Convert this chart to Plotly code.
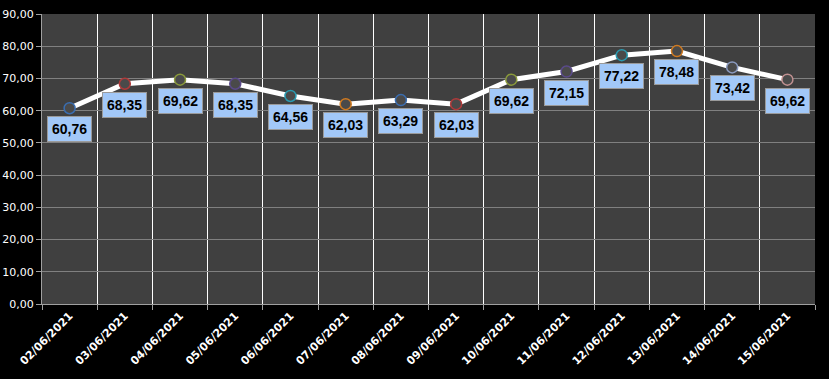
import plotly.graph_objects as go

dates = ["02/06/2021", "03/06/2021", "04/06/2021", "05/06/2021", "06/06/2021",
         "07/06/2021", "08/06/2021", "09/06/2021", "10/06/2021", "11/06/2021",
         "12/06/2021", "13/06/2021", "14/06/2021", "15/06/2021"]
values = [60.76, 68.35, 69.62, 68.35, 64.56, 62.03, 63.29, 62.03,
          69.62, 72.15, 77.22, 78.48, 73.42, 69.62]
marker_colors = ["#3a6db0", "#b03a3a", "#8a9a3a", "#5a4a8a", "#2a9ab0", "#d07a20",
                 "#3a6db0", "#b03a3a", "#8a9a3a", "#5a4a8a", "#2a9ab0", "#d07a20",
                 "#8a9ac0", "#c09090"]
y_ticks = [0, 10, 20, 30, 40, 50, 60, 70, 80, 90]

fig = go.Figure()
fig.add_trace(go.Scatter(
    x=dates, y=values, mode="lines+markers",
    line=dict(color="white", width=5),
    marker=dict(size=11, color="#4a4a4a", line=dict(color=marker_colors, width=1.5)),
    hoverinfo="skip",
))

for d, v in zip(dates, values):
    fig.add_annotation(
        x=d, y=v, text=f"{v:.2f}".replace(".", ","), showarrow=False,
        yshift=-21, bgcolor="#a2c8f8", bordercolor="#9a9a9a", borderwidth=1,
        borderpad=4, font=dict(family="Liberation Sans", size=14, color="black", weight="bold"),
    )

fig.update_layout(
    width=829, height=379,
    margin=dict(l=42, r=14, t=14, b=75),
    paper_bgcolor="black", plot_bgcolor="#404040",
    showlegend=False, separators=",.",
    font=dict(family="DejaVu Sans", color="white", size=10),
)
fig.update_xaxes(
    type="category", range=[-0.5, len(dates) - 0.5], tickson="boundaries",
    showgrid=True, gridcolor="white", gridwidth=1,
    ticks="outside", ticklen=5, tickcolor="#a0a0a0", tickangle=-45, automargin=False,
    showline=True, linecolor="#a0a0a0",
    tickfont=dict(family="DejaVu Sans", size=11, color="white", weight="bold"),
)
fig.update_yaxes(
    range=[0, 90], tickvals=y_ticks, tickformat=".2f", showgrid=True, gridcolor="#808080",
    ticks="outside", ticklen=5, tickcolor="#a0a0a0", zeroline=False, automargin=False,
    showline=True, linecolor="#a0a0a0", tickfont=dict(size=11, color="white"),
)

fig.write_html(
    "out.html",
    config={"displayModeBar": False},
    post_script="document.body.style.margin='0';document.body.style.background='black';",
)
